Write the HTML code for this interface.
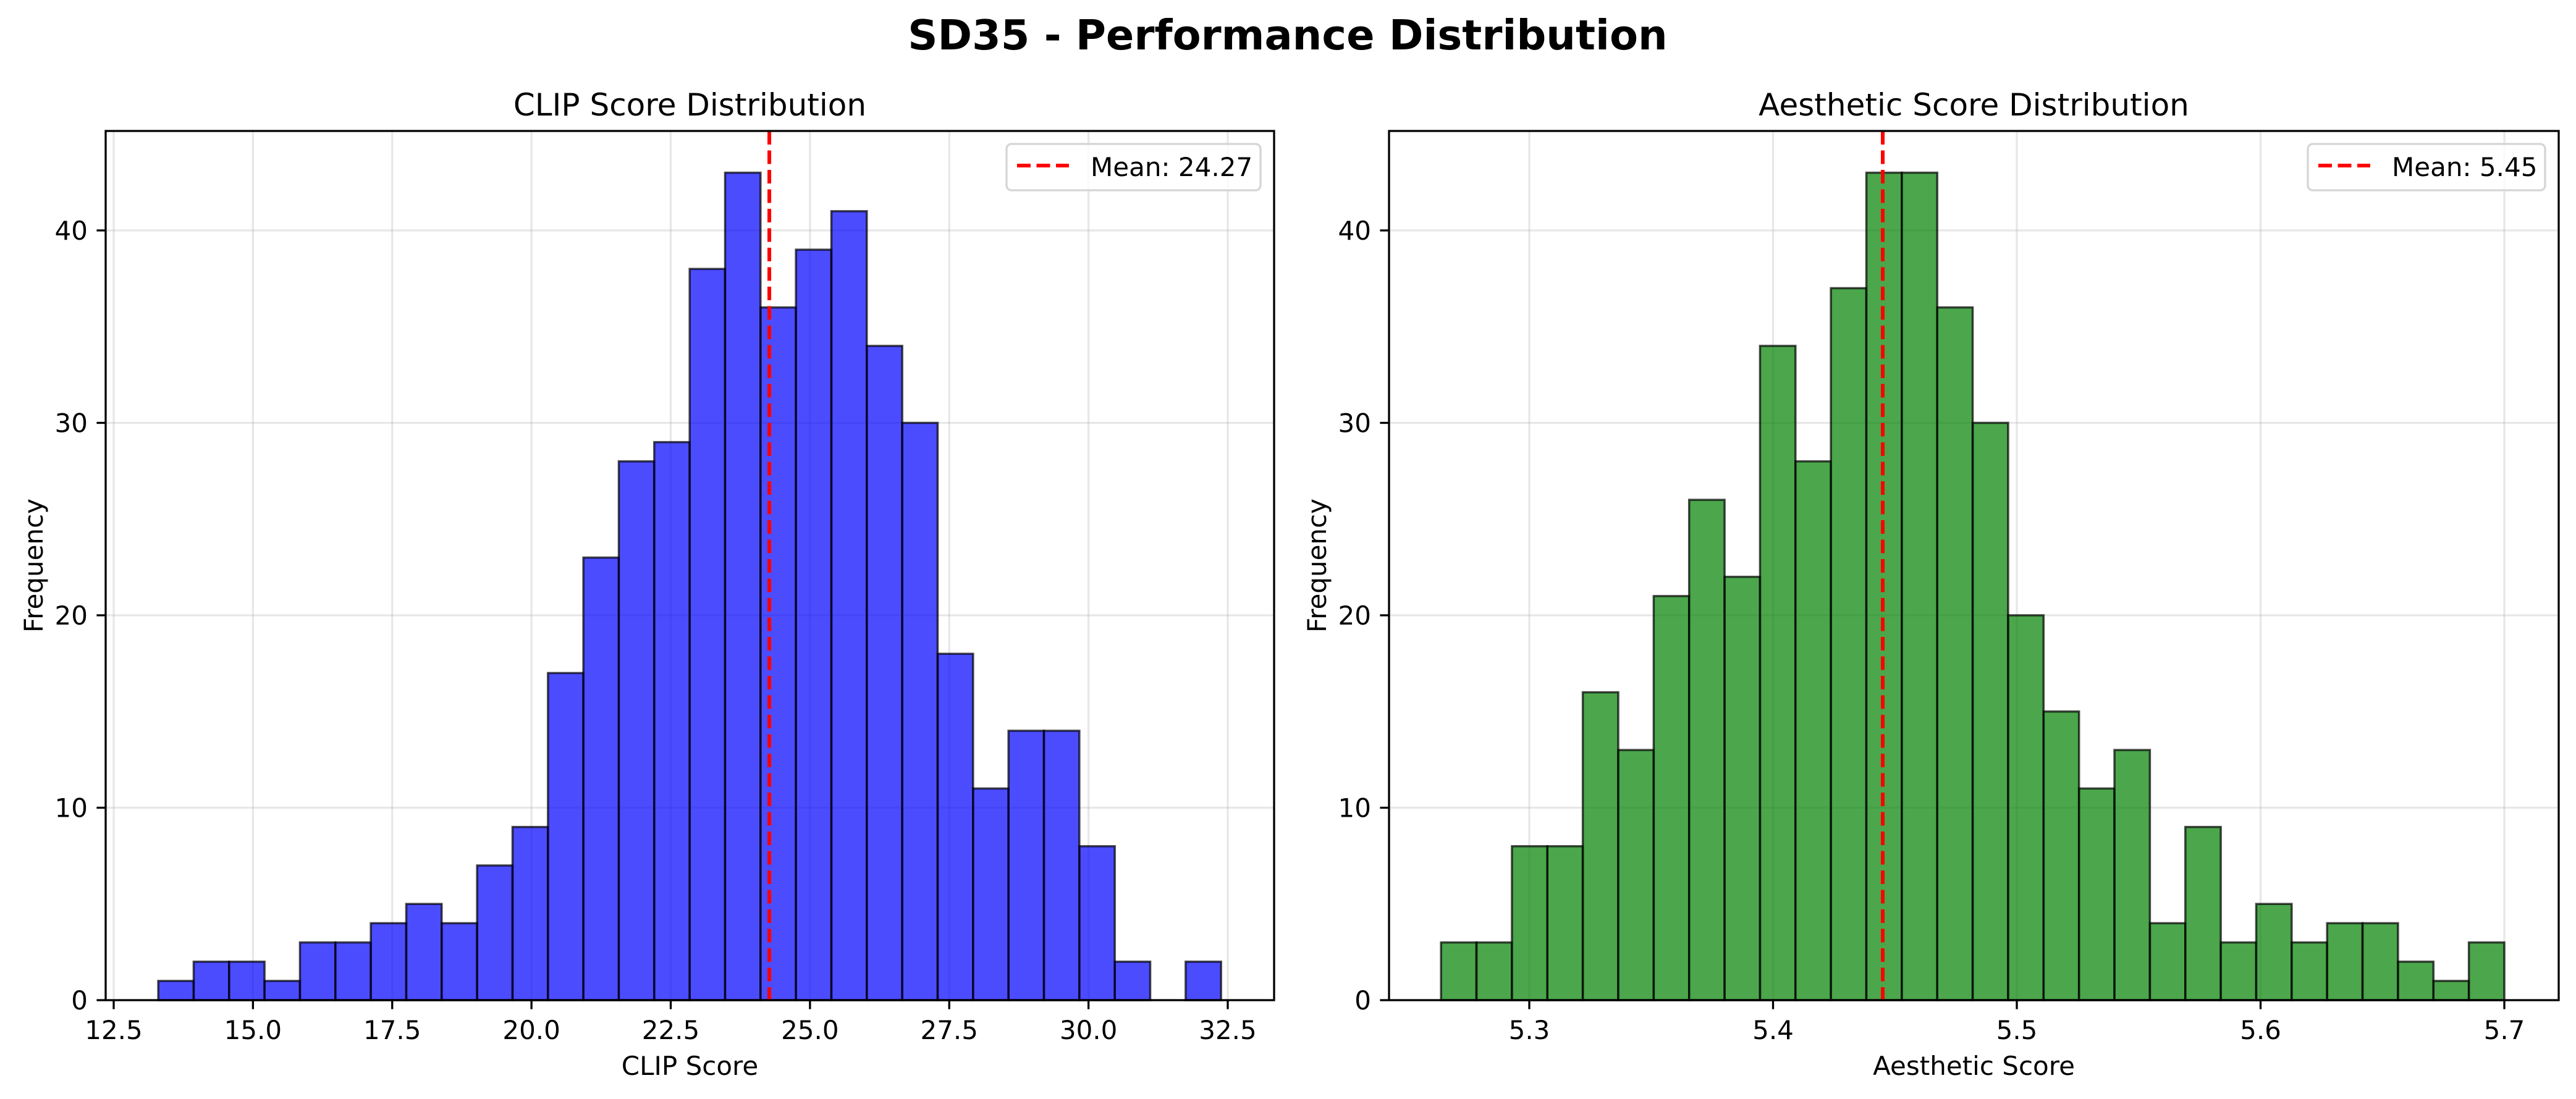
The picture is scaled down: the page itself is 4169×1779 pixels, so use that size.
<!DOCTYPE html>
<html><head><meta charset="utf-8"><style>
html,body{margin:0;padding:0;background:#fff;}
svg{display:block;font-family:"DejaVu Sans","Liberation Sans",sans-serif;}
</style></head><body>
<svg id="fig" width="4169" height="1779" viewBox="0 0 4169 1779">
<rect width="4169" height="1779" fill="#fff"/>
<text x="2084" y="80" text-anchor="middle" font-size="67" font-weight="bold">SD35 - Performance Distribution</text>
<g id="p1"></g>
<g id="p2"></g>
</svg>
<script>
const clipCounts = [1,2,2,1,3,3,4,5,4,7,9,17,23,28,29,38,43,36,39,41,34,30,18,11,14,14,8,2,0,2];
const clipRange = [13.30, 32.38];
const clipMean = 24.27;
const clipTicks = [12.5,15.0,17.5,20.0,22.5,25.0,27.5,30.0,32.5];
const clipTickLabels = ["12.5","15.0","17.5","20.0","22.5","25.0","27.5","30.0","32.5"];

const aesCounts = [3,3,8,8,16,13,21,26,22,34,28,37,43,43,36,30,20,15,11,13,4,9,3,5,3,4,4,2,1,3];
const aesRange = [5.2638, 5.70];
const aesMean = 5.445;
const aesTicks = [5.3,5.4,5.5,5.6,5.7];
const aesTickLabels = ["5.3","5.4","5.5","5.6","5.7"];

const yTicks = [0,10,20,30,40];
const yTickLabels = ["0","10","20","30","40"];

const NS = "http://www.w3.org/2000/svg";
function mk(parent, tag, attrs, text){
  const e = document.createElementNS(NS, tag);
  for (const k in attrs) e.setAttribute(k, attrs[k]);
  if (text !== undefined) e.textContent = text;
  parent.appendChild(e);
  return e;
}

function panel(g, cfg){
  const L=cfg.left, R=cfg.right, T=212, B=1619;
  const xs = v => cfg.x0px + (v - cfg.x0v) * cfg.pxPerUnit;
  const ys = v => B - v * (1246/40);
  cfg.ticks.forEach(t=>{
    const l = mk(g,'line',{x1:xs(t),x2:xs(t),y1:T,y2:B,stroke:'#b0b0b0','stroke-opacity':0.3,'stroke-width':3.3});
    
    
  });
  yTicks.forEach(t=>{
    const l = mk(g,'line',{x1:L,x2:R,y1:ys(t),y2:ys(t),stroke:'#b0b0b0','stroke-opacity':0.3,'stroke-width':3.3});
    
    
  });
  const n = cfg.counts.length, w = (cfg.range[1]-cfg.range[0])/n;
  cfg.counts.forEach((c,i)=>{
    if (c<=0) return;
    const x1 = xs(cfg.range[0]+i*w), x2 = xs(cfg.range[0]+(i+1)*w);
    const r = mk(g,'rect',{x:x1,y:ys(c),width:x2-x1,height:B-ys(c),fill:cfg.color,'fill-opacity':0.7,stroke:'#000','stroke-opacity':0.7,'stroke-width':3.5});
    
    
  });
  const m = mk(g,'line',{x1:xs(cfg.mean),x2:xs(cfg.mean),y1:T,y2:B,stroke:'#ff0000','stroke-width':6,'stroke-dasharray':'22 9.5'});
  
  
  const f = mk(g,'rect',{x:L,y:T,width:R-L,height:B-T,fill:'none',stroke:'#000','stroke-width':3.3});
  
  
  cfg.ticks.forEach((t,i)=>{
    const l = mk(g,'line',{x1:xs(t),x2:xs(t),y1:B,y2:B+14.6,stroke:'#000','stroke-width':3.3});
    
    
    const tx = mk(g,'text',{x:xs(t),y:1682,'text-anchor':'middle','font-size':42},cfg.tickLabels[i]);
    
    
  });
  yTicks.forEach((t,i)=>{
    const l = mk(g,'line',{x1:L-14.6,x2:L,y1:ys(t),y2:ys(t),stroke:'#000','stroke-width':3.3});
    
    
    const tx = mk(g,'text',{x:L-29,y:ys(t)+15,'text-anchor':'end','font-size':42},yTickLabels[i]);
    
    
  });
  const xl = mk(g,'text',{x:(L+R)/2,y:1740,'text-anchor':'middle','font-size':42},cfg.xlabel);
  
  
  const yl = mk(g,'text',{x:0,y:0,'text-anchor':'middle','font-size':42,transform:`translate(${L-102},${(T+B)/2}) rotate(-90)`},'Frequency');
  
  
  const tt = mk(g,'text',{x:(L+R)/2,y:187,'text-anchor':'middle','font-size':50},cfg.title);
  
  
  const lg = mk(g,'g',{});
  
  
  const lw = cfg.legendW, lx = R-22-lw;
  mk(lg,'rect',{x:lx,y:233,width:lw,height:75,rx:8,fill:'#fff','fill-opacity':0.8,stroke:'#d5d5d5','stroke-width':3.3});
  const ll = mk(lg,'line',{x1:lx+17,x2:lx+101,y1:268,y2:268,stroke:'#ff0000','stroke-width':6,'stroke-dasharray':'22 9.5'});
  
  
  const lt = mk(lg,'text',{x:lx+136,y:285,'font-size':42},cfg.legendText);
  
  
}

panel(document.getElementById('p1'),{left:171,right:2062,x0px:184,x0v:12.5,pxPerUnit:90.15,
  counts:clipCounts,range:clipRange,mean:clipMean,ticks:clipTicks,tickLabels:clipTickLabels,
  color:'#0000ff',xlabel:'CLIP Score',title:'CLIP Score Distribution',legendText:'Mean: '+clipMean.toFixed(2),legendW:411});
panel(document.getElementById('p2'),{left:2248,right:4141,x0px:2475,x0v:5.3,pxPerUnit:3945,
  counts:aesCounts,range:aesRange,mean:aesMean,ticks:aesTicks,tickLabels:aesTickLabels,
  color:'#008000',xlabel:'Aesthetic Score',title:'Aesthetic Score Distribution',legendText:'Mean: '+aesMean.toFixed(2),legendW:384});
</script>
</body></html>
